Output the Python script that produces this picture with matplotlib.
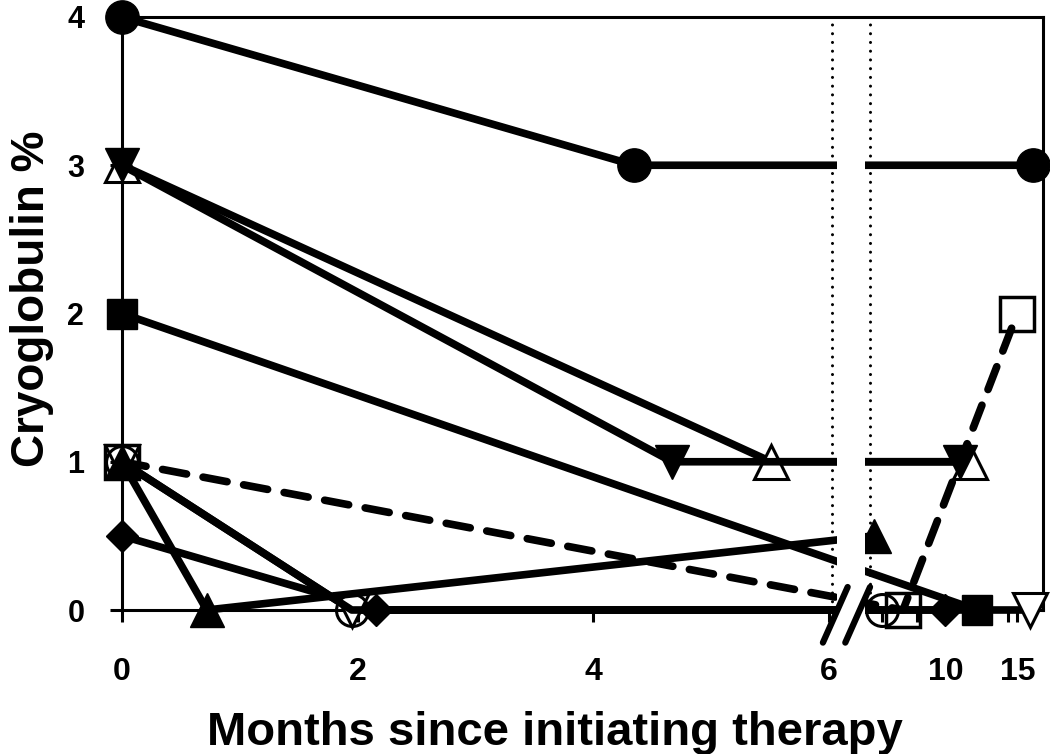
import numpy as np
import matplotlib.pyplot as plt
from matplotlib.patches import Rectangle

plt.rcParams.update({'font.family': ['Liberation Sans', 'DejaVu Sans'],
                     'font.weight': 'bold'})

# x values are positions on the broken axis (0-6 months linear, then 10 and 15 compressed)
xtick_pos = [0, 2, 4, 6, 6.99, 7.6]
xtick_labels = ["0", "2", "4", "6", "10", "15"]

circle_x = [0, 4.35, 7.73]
circle_y = [4, 3, 3]
otri_x = [0, 5.51, 7.2]
otri_y = [3, 1, 1]
dtri_x = [0, 4.67, 7.11]
dtri_y = [3, 1, 1]
square_x = [0, 7.26]
square_y = [2, 0]
diamond_x = [0, 2.16, 6.99]
diamond_y = [0.5, 0, 0]
odtri_x = [0, 1.95, 7.71]
odtri_y = [1, 0, 0]
ocirc_x = [0, 1.95, 6.45]
ocirc_y = [1, 0, 0]
utri_x = [0, 0.72, 6.38]
utri_y = [1, 0, 0.5]
osq_x = [0, 6.63, 7.6]
osq_y = [1, 0, 2]

fig = plt.figure(figsize=(10.5, 7.54), dpi=100)
ax = fig.add_axes([122/1050, 144/754, 921/1050, 593/754])
ax.set_xlim(0, 921/117.8)
ax.set_ylim(0, 4)

lw = 5.5
kw = dict(color="black", lw=lw, clip_on=False, zorder=2, solid_capstyle="butt")
ax.plot(circle_x, circle_y, marker="o", ms=24, mfc="black", mec="black", **kw)
ax.plot(square_x, square_y, marker="s", ms=22, mfc="black", mec="black", **kw)
ax.plot(otri_x, otri_y, marker="^", ms=24, mfc="white", mec="black", mew=2.2, **kw)
ax.plot(dtri_x, dtri_y, marker="v", ms=24, mfc="black", mec="black", **kw)
ax.plot(diamond_x, diamond_y, marker="D", ms=16, mfc="black", mec="black", **kw)
ax.plot(odtri_x, odtri_y, marker="v", ms=24, mfc="white", mec="black", mew=2.2, **kw)
ax.plot(ocirc_x, ocirc_y, marker="o", ms=23, mfc="none", mec="black", mew=2.2, **kw)
ax.plot(utri_x, utri_y, marker="^", ms=24, mfc="black", mec="black", **kw)
ax.plot(osq_x, osq_y, marker="s", ms=24, mfc="none", mec="black", mew=2.5,
        color="black", lw=lw, clip_on=False, zorder=2,
        dashes=(3.2, 2.2), dash_capstyle="round")

# axis break: white gap, dotted guides and slashes
ax.add_patch(Rectangle((6.07, -0.04), 0.24, 4.02, facecolor="white",
                       edgecolor="none", zorder=3, clip_on=False))
for xb in [6.03, 6.35]:
    ax.plot([xb, xb], [0, 4], color="black", lw=2.2, zorder=5,
            linestyle=(0, (0.01, 2.85)), dash_capstyle="round")
ax.plot([5.95, 6.16], [-0.22, 0.155], color="black", lw=4.5, zorder=6,
        clip_on=False, solid_capstyle="round")
ax.plot([6.14, 6.35], [-0.22, 0.155], color="black", lw=4.5, zorder=6,
        clip_on=False, solid_capstyle="round")

for s in ax.spines.values():
    s.set_linewidth(2.2)
    s.set_zorder(1)

ax.set_yticks([0, 1, 2, 3, 4])
ax.set_yticklabels(["0", "1", "2", "3", "4"], fontsize=22, fontweight="bold")
ax.set_xticks(xtick_pos)
ax.set_xticklabels(xtick_labels, fontsize=23, fontweight="bold")
ax.set_xticks([6.45, 6.75, 7.52], minor=True)
ax.tick_params(axis="y", direction="out", length=8.6, width=2.2, pad=18.5)
ax.tick_params(axis="x", which="both", direction="out", length=8.6, width=2.2, pad=25)

fig.text(555/1050, 1 - 745/754, "Months since initiating therapy",
         fontsize=34, fontweight="bold", ha="center", va="baseline")
fig.text(32/1050, 1 - 299/754, "Cryoglobulin %", fontsize=33,
         fontweight="bold", rotation=90, ha="center", va="center")

fig.savefig("out.png", dpi=100)
